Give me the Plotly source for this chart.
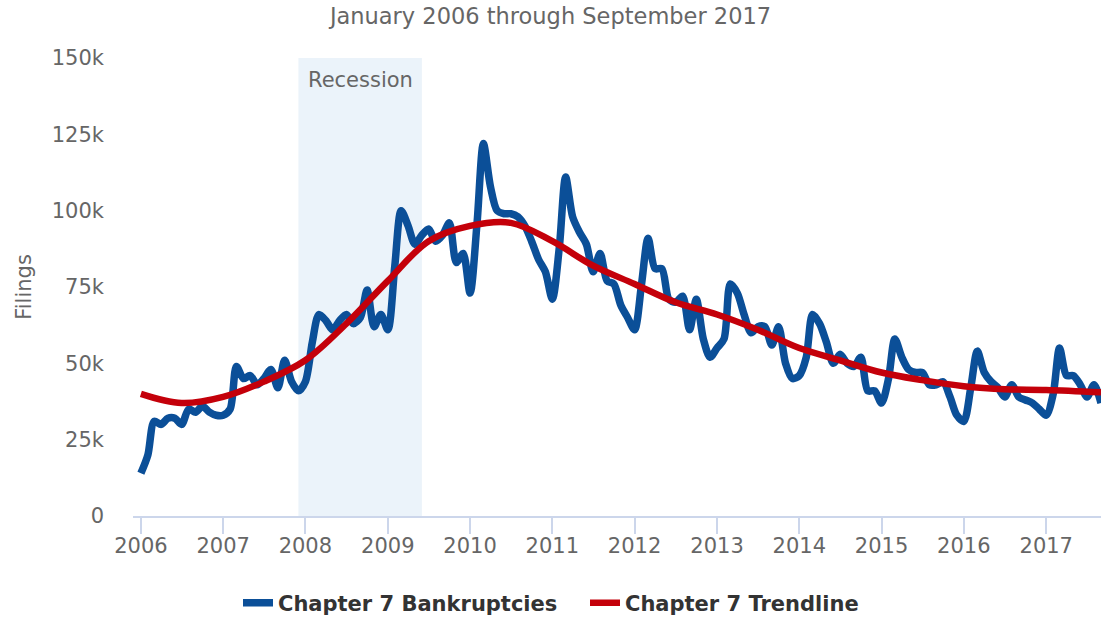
import pandas as pd
import plotly.graph_objects as go

# Monthly Chapter 7 filings (thousands), Jan 2006 .. Sep 2017
ch7_2006 = [14, 20, 31, 30, 32, 32, 30, 35, 34, 36, 34, 33]
ch7_2007 = [33, 35, 49, 45, 46, 43, 45, 48, 42, 51, 44, 41]
ch7_2008 = [44, 57, 66, 64, 61, 64, 66, 63, 65, 74, 62, 66]
ch7_2009 = [61, 82, 100, 95, 89, 92, 94, 90, 92, 96, 83, 86]
ch7_2010 = [73, 96, 122, 108, 100, 99, 99, 98, 95, 90, 84, 80]
ch7_2011 = [71, 88, 111, 98, 93, 89, 80, 86, 77, 76, 69, 65]
ch7_2012 = [61, 76, 91, 81, 81, 71, 70, 72, 61, 71, 58, 52]
ch7_2013 = [55, 58, 76, 73, 66, 60, 62, 62, 56, 62, 50, 45]
ch7_2014 = [46, 52, 66, 63, 57, 50, 53, 50, 49, 52, 41, 41]
ch7_2015 = [37, 45, 58, 52, 48, 47, 47, 43, 43, 44, 39, 33]
ch7_2016 = [31, 42, 54, 47, 44, 42, 39, 43, 39, 38, 37, 35]
ch7_2017 = [33, 40, 55, 46, 46, 43, 39, 43, 37]

filings_k = (ch7_2006 + ch7_2007 + ch7_2008 + ch7_2009 + ch7_2010 + ch7_2011 +
             ch7_2012 + ch7_2013 + ch7_2014 + ch7_2015 + ch7_2016 + ch7_2017)
months = pd.date_range("2006-01-01", periods=len(filings_k), freq="MS")
filings = [v * 1000 for v in filings_k]

# Trendline (thousands) at semi-annual points
trend_dates = ["2006-01-01", "2006-07-01", "2007-01-01", "2007-07-01", "2008-01-01",
               "2008-07-01", "2009-01-01", "2009-07-01", "2010-01-01", "2010-07-01",
               "2011-01-01", "2011-07-01", "2012-01-01", "2012-07-01", "2013-01-01",
               "2013-07-01", "2014-01-01", "2014-07-01", "2015-01-01", "2015-07-01",
               "2016-01-01", "2016-07-01", "2017-01-01", "2017-09-01"]
trend_k = [40, 37, 39, 44, 51, 63, 77, 90, 95, 96, 90, 82, 76, 70, 66, 61,
           55, 51, 47, 44.5, 42.5, 41.5, 41.3, 40.5]
trend = [v * 1000 for v in trend_k]

year_ticks = [f"{y}-01-01" for y in range(2006, 2018)]
year_labels = [str(y) for y in range(2006, 2018)]
y_ticks = [0, 25000, 50000, 75000, 100000, 125000, 150000]
y_labels = ["0", "25k", "50k", "75k", "100k", "125k", "150k"]

recession_start = "2007-12-01"
recession_end = "2009-06-01"

FONT = "DejaVu Sans"

fig = go.Figure()
fig.add_trace(go.Scatter(
    x=months, y=filings, mode="lines", name="Chapter 7 Bankruptcies",
    line=dict(color="#0B4F98", width=7.5, shape="spline", smoothing=0.8),
))
fig.add_trace(go.Scatter(
    x=trend_dates, y=trend, mode="lines", name="Chapter 7 Trendline",
    line=dict(color="#C4000A", width=6.5, shape="spline", smoothing=1.0),
))

fig.add_shape(type="rect", xref="x", yref="paper",
              x0=recession_start, x1=recession_end, y0=0, y1=1,
              fillcolor="#EBF3FA", line=dict(width=0), layer="below")
fig.add_annotation(x=pd.Timestamp("2008-09-01"), xref="x", y=0.952, yref="paper",
                   yanchor="middle", xanchor="center",
                   text="Recession", showarrow=False,
                   font=dict(family=FONT, size=21, color="#666666"))

fig.update_layout(
    width=1101, height=617,
    margin=dict(l=133, r=0, t=58, b=101, autoexpand=False),
    paper_bgcolor="white", plot_bgcolor="white",
    title=dict(text="January 2006 through September 2017", x=0.5, xref="container",
               xanchor="center", y=1 - 16 / 617, yanchor="middle", yref="container",
               font=dict(family=FONT, size=22.5, color="#666666")),
    showlegend=True,
    legend=dict(orientation="h", x=238 / 1101, xref="container", xanchor="left",
                y=1 - 603 / 617, yref="container", yanchor="middle",
                font=dict(family=FONT, size=21, color="#333333", weight="bold"),
                itemwidth=30, entrywidth=302, entrywidthmode="pixels"),
    xaxis=dict(type="date", range=["2005-11-27", "2017-09-01"],
               tickvals=year_ticks, ticktext=year_labels, automargin=False,
               showgrid=False, zeroline=False,
               showline=True, linecolor="#CCD6EB", linewidth=1.5,
               ticks="outside", ticklen=16, tickcolor="#CCD6EB", tickwidth=1.5,
               ticklabelstandoff=-6,
               tickfont=dict(family=FONT, size=21, color="#666666")),
    yaxis=dict(range=[0, 150000], tickvals=y_ticks, ticktext=y_labels,
               showgrid=False, zeroline=False, showline=False, automargin=False,
               ticklabelstandoff=28,
               tickfont=dict(family=FONT, size=21, color="#666666"),
               title=dict(text="Filings", standoff=14,
                          font=dict(family=FONT, size=21, color="#666666"))),
)

fig.write_html("out.html",
               config={"displayModeBar": False},
               post_script="document.body.style.margin='0';document.body.style.padding='0';")
